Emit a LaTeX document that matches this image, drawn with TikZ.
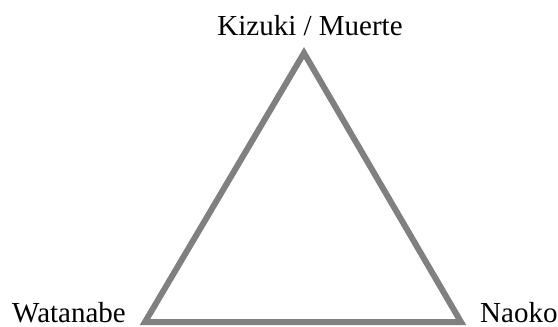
\documentclass[tikz,border=0pt]{standalone}
\usepackage{fontspec}
\setmainfont{Liberation Serif}
\begin{document}
\begin{tikzpicture}[x=1pt,y=-1pt,
  lbl/.style={inner sep=0pt,font=\fontsize{29}{33}\selectfont},
  edge/.style={draw={rgb,255:red,128;green,128;blue,128},line width=6pt,line join=miter}]
\useasboundingbox (0,0) rectangle (558,327);
\coordinate (A) at (304,53);
\coordinate (B) at (145,322);
\coordinate (C) at (461,322);
\draw[edge] (A) -- (B) -- (C) -- cycle;
\node[lbl,anchor=base] (k) at (310,35) {Kizuki / Muerte};
\node[lbl,anchor=base east] (w) at (126,322) {Watanabe};
\node[lbl,anchor=base west] (n) at (480,322) {Naoko};
\end{tikzpicture}
\end{document}
